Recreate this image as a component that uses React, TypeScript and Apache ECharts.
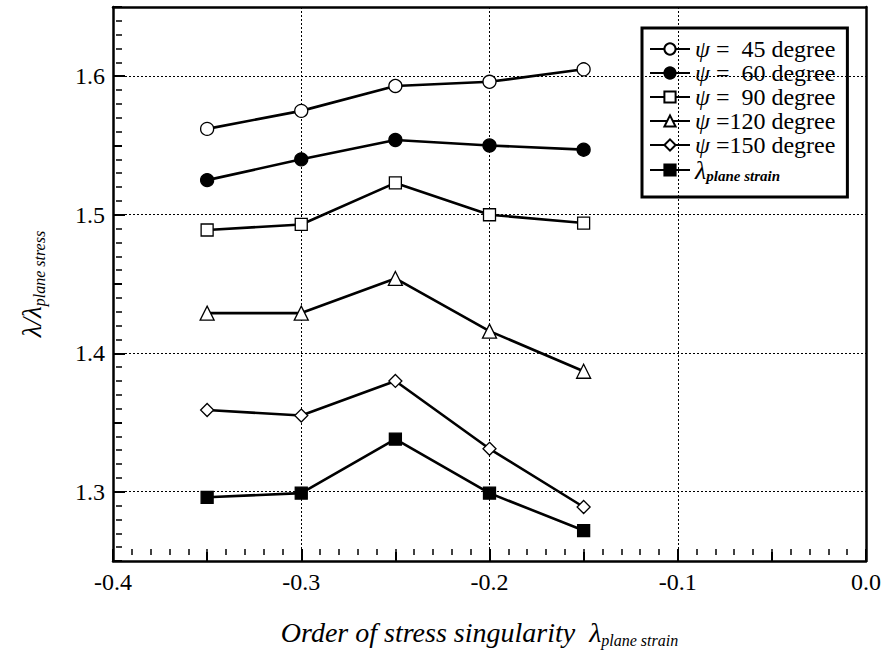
import React, { useEffect, useRef } from "react";
import * as echarts from "echarts";

const xValues = [-0.35, -0.3, -0.25, -0.2, -0.15];
const psi45 = [1.562, 1.575, 1.593, 1.596, 1.605];
const psi60 = [1.525, 1.54, 1.554, 1.55, 1.547];
const psi90 = [1.489, 1.493, 1.523, 1.5, 1.494];
const psi120 = [1.429, 1.429, 1.454, 1.416, 1.387];
const psi150 = [1.359, 1.355, 1.38, 1.331, 1.289];
const planeStrain = [1.296, 1.299, 1.338, 1.299, 1.272];

const yMajorTicks = [1.3, 1.4, 1.5, 1.6];
const xGridValues = [-0.3, -0.2, -0.1];

const seriesNames = ["psi45", "psi60", "psi90", "psi120", "psi150", "plane"];
const legendLabels: Record<string, string> = {
  psi45: "{i|ψ}{t| =  45 degree}",
  psi60: "{i|ψ}{t| =  60 degree}",
  psi90: "{i|ψ}{t| =  90 degree}",
  psi120: "{i|ψ}{t| =120 degree}",
  psi150: "{i|ψ}{t| =150 degree}",
  plane: "{l|λ}{s|plane strain}",
};

const SERIF = "Liberation Serif";

export default function App() {
  const ref = useRef<HTMLDivElement>(null);
  useEffect(() => {
    if (!ref.current) return;
    const chart = echarts.init(ref.current, undefined, { renderer: "svg" });
    const pair = (ys: number[]) => xValues.map((x, i) => [x, ys[i]]);
    const base = (name: string, ys: number[], symbol: string, size: number, filled: boolean) => ({
      name,
      type: "line",
      xAxisIndex: 0,
      yAxisIndex: 0,
      data: pair(ys),
      symbol,
      symbolSize: size,
      showSymbol: true,
      lineStyle: { color: "#000", width: 2.6 },
      itemStyle: { color: filled ? "#000" : "#fff", borderColor: "#000", borderWidth: 1.3 },
      z: 5,
    });
    const series: any[] = [
      base("psi45", psi45, "circle", 13, false),
      base("psi60", psi60, "circle", 13, true),
      base("psi90", psi90, "rect", 12, false),
      base("psi120", psi120, "triangle", 14, false),
      base("psi150", psi150, "diamond", 13, false),
      base("plane", planeStrain, "rect", 12, true),
    ];
    series.push({
      name: "grid",
      type: "line",
      data: [],
      silent: true,
      markLine: {
        silent: true,
        symbol: "none",
        label: { show: false },
        lineStyle: { color: "#000", type: [2, 2], width: 1 },
        data: [
          ...yMajorTicks.map((v) => ({ yAxis: v })),
          ...xGridValues.map((v) => ({ xAxis: v })),
        ],
      },
      z: 1,
    });
    const frameAxis = (position: string) => ({
      type: "value",
      min: position === "top" ? -0.4 : 1.25,
      max: position === "top" ? 0 : 1.65,
      position,
      axisLine: { show: true, onZero: false, lineStyle: { color: "#000", width: 2.5 } },
      axisTick: { show: false },
      axisLabel: { show: false },
      splitLine: { show: false },
    });
    const xTickAxis = (interval: number, len: number, minor: boolean) => ({
      type: "value",
      min: -0.4,
      max: 0,
      interval,
      position: "bottom",
      offset: -len,
      axisLine: { show: false, onZero: false },
      axisTick: { show: true, inside: false, length: len, lineStyle: { color: "#000", width: 2 } },
      minorTick: minor ? { show: true, splitNumber: 10, length: 6, lineStyle: { color: "#000", width: 1.5 } } : { show: false },
      axisLabel: { show: false },
      splitLine: { show: false },
    });
    const subStyle = { fontFamily: SERIF, fontSize: 16, fontStyle: "italic", color: "#000", padding: [15, 0, 0, 0] };
    chart.setOption({
      animation: false,
      textStyle: { fontFamily: SERIF },
      grid: {
        left: 113,
        right: 17,
        top: 7,
        bottom: 86,
        show: false,
      },
      legend: {
        data: seriesNames,
        orient: "vertical",
        left: 642,
        top: 28,
        padding: [9, 12, 14, 7],
        itemWidth: 40,
        itemHeight: 14,
        itemGap: 0,
        backgroundColor: "#fff",
        borderColor: "#000",
        borderWidth: 3,
        formatter: (n: string) => legendLabels[n],
        textStyle: {
          fontFamily: SERIF,
          fontSize: 24,
          color: "#000",
          rich: {
            i: { fontFamily: SERIF, fontSize: 24, lineHeight: 23, fontStyle: "italic", color: "#000" },
            t: { fontFamily: SERIF, fontSize: 24, lineHeight: 23, color: "#000" },
            l: { fontFamily: SERIF, fontSize: 26, lineHeight: 23, fontStyle: "italic", color: "#000" },
            s: { fontFamily: SERIF, fontSize: 15, fontStyle: "italic", fontWeight: "bold", color: "#000", padding: [11, 0, 0, 0] },
          },
        },
      },
      xAxis: [
        {
          type: "value",
          min: -0.4,
          max: 0,
          interval: 0.1,
          position: "bottom",
          axisLine: { show: true, onZero: false, lineStyle: { color: "#000", width: 2.5 } },
          axisTick: { show: false },
          splitLine: { show: false },
          axisLabel: {
            fontFamily: SERIF,
            fontSize: 24,
            color: "#000",
            margin: 9,
            formatter: (v: number) => v.toFixed(1),
          },
          name: "{a|Order of stress singularity  λ}{s|plane strain}",
          nameLocation: "middle",
          nameGap: 56,
          nameTextStyle: {
            fontFamily: SERIF,
            padding: [0, 20, 0, 0],
            rich: {
              a: { fontFamily: SERIF, fontSize: 28, fontStyle: "italic", color: "#000" },
              s: subStyle,
            },
          },
        },
        xTickAxis(0.1, 12, true),
        xTickAxis(0.05, 9, false),
        frameAxis("top"),
      ],
      yAxis: [
        {
          type: "value",
          min: 1.25,
          max: 1.65,
          position: "left",
          axisLine: { show: true, onZero: false, lineStyle: { color: "#000", width: 2.5 } },
          axisTick: { show: false },
          splitLine: { show: false },
          axisLabel: {
            customValues: yMajorTicks,
            fontFamily: SERIF,
            fontSize: 24,
            color: "#000",
            margin: 8,
            formatter: (v: number) => v.toFixed(1),
          },
          name: "{a|λ/λ}{s|plane stress}",
          nameLocation: "middle",
          nameRotate: 90,
          nameGap: 66,
          nameTextStyle: {
            fontFamily: SERIF,
            rich: {
              a: { fontFamily: SERIF, fontSize: 27, fontStyle: "italic", color: "#000" },
              s: subStyle,
            },
          },
        },
        {
          type: "value",
          min: 1.25,
          max: 1.65,
          position: "left",
          offset: -12,
          axisLine: { show: false, onZero: false },
          axisTick: { show: true, inside: false, length: 12, customValues: yMajorTicks, lineStyle: { color: "#000", width: 2 } },
          axisLabel: { show: false },
          splitLine: { show: false },
        },
        {
          type: "value",
          min: 1.25,
          max: 1.65,
          interval: 0.05,
          position: "left",
          offset: -9,
          axisLine: { show: false, onZero: false },
          axisTick: { show: true, inside: false, length: 9, lineStyle: { color: "#000", width: 2 } },
          minorTick: { show: true, splitNumber: 5, length: 6, lineStyle: { color: "#000", width: 1.5 } },
          axisLabel: { show: false },
          splitLine: { show: false },
        },
        frameAxis("right"),
      ],
      series,
    });
    return () => chart.dispose();
  }, []);
  return (
    <>
      <style>{`#chart-box text, #chart-box tspan { font-family: "Liberation Serif", serif !important; }`}</style>
      <div
        id="chart-box"
        ref={ref}
        style={{ position: "fixed", left: 0, top: 0, width: 884, height: 653, background: "#fff" }}
      />
    </>
  );
}
